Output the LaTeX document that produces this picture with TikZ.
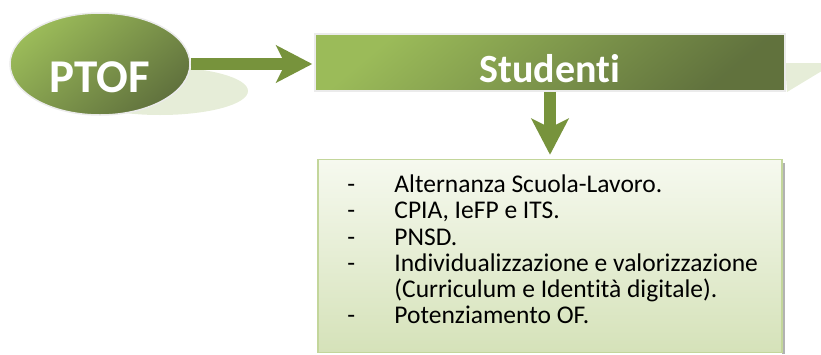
\documentclass[tikz,border=0pt]{standalone}
\usepackage{fontspec}
\setmainfont{Carlito}[Ligatures=NoCommon,Contextuals=NoAlternate]
\usetikzlibrary{shapes.geometric,arrows.meta,patterns}

\definecolor{olivelight}{HTML}{9BBB59}
\definecolor{olivedark}{HTML}{4F6228}
\definecolor{olivearrow}{HTML}{77933C}
\definecolor{oliveshadow}{HTML}{E6EDD8}
\definecolor{listtop}{HTML}{F6F9EF}
\definecolor{listbottom}{HTML}{D5E2B9}
\definecolor{listborder}{HTML}{C3D69B}

\begin{document}
\begin{tikzpicture}[x=1pt,y=-1pt,
		bigshape/.style={draw=black!8, line width=1.5pt, top color=olivelight, bottom color=olivedark!90, shading angle=40, text=white, font=\bfseries},
		blockarrow/.style={draw=olivearrow, line width=11.5pt, -{Stealth[length=36pt,width=37pt,inset=9pt]}, fill=olivearrow},
		listbox/.style={draw=listborder, line width=1.5pt, top color=listtop, bottom color=listbottom, minimum width=464pt, minimum height=193pt, inner sep=0pt},
		shadowfill/.style={fill=oliveshadow}]
					\useasboundingbox (0,0) rectangle (821,354);
					
					\fill[shadowfill] (160,91) ellipse (88 and 24);
					\fill[shadowfill] (785,63) -- (830,63) -- (830,66) -- (787,92) -- cycle;
					
					\node[bigshape, ellipse, minimum width=180pt, minimum height=102pt, inner sep=0pt, font=\bfseries\fontsize{47}{47}\selectfont] (ptof) at (100,64) {\raisebox{-28pt}[0pt][0pt]{PTOF}};
					\node[bigshape, rectangle, minimum width=470pt, minimum height=57pt, inner sep=0pt, font=\bfseries\fontsize{40}{40}\selectfont] (stud) at (550,62.5) {\raisebox{-20pt}[0pt][0pt]{Studenti}};
					
					\fill[black!30] (782,163) rectangle (785,354);
					\node[listbox] (list) at (550,256) {};
					\node[anchor=north west, align=left, inner sep=0pt, font=\fontsize{25.5}{26.2}\selectfont, xshift=30pt, yshift=-16pt] (items) at (list.north west)
						{\makebox[47pt][l]{-}Alternanza Scuola-Lavoro.\\
						\makebox[47pt][l]{-}CPIA, IeFP e ITS.\\
						\makebox[47pt][l]{-}PNSD.\\
						\makebox[47pt][l]{-}Individualizzazione e valorizzazione\\
						\hspace*{47pt}(Curriculum e Identità digitale).\\
						\makebox[47pt][l]{-}Potenziamento OF.};
					
					\draw[blockarrow, shorten >=2pt] (ptof.east) -- (ptof.east -| stud.west);
					\draw[blockarrow, shorten >=4pt] (stud.south) -- (list.north);
\end{tikzpicture}
\end{document}
